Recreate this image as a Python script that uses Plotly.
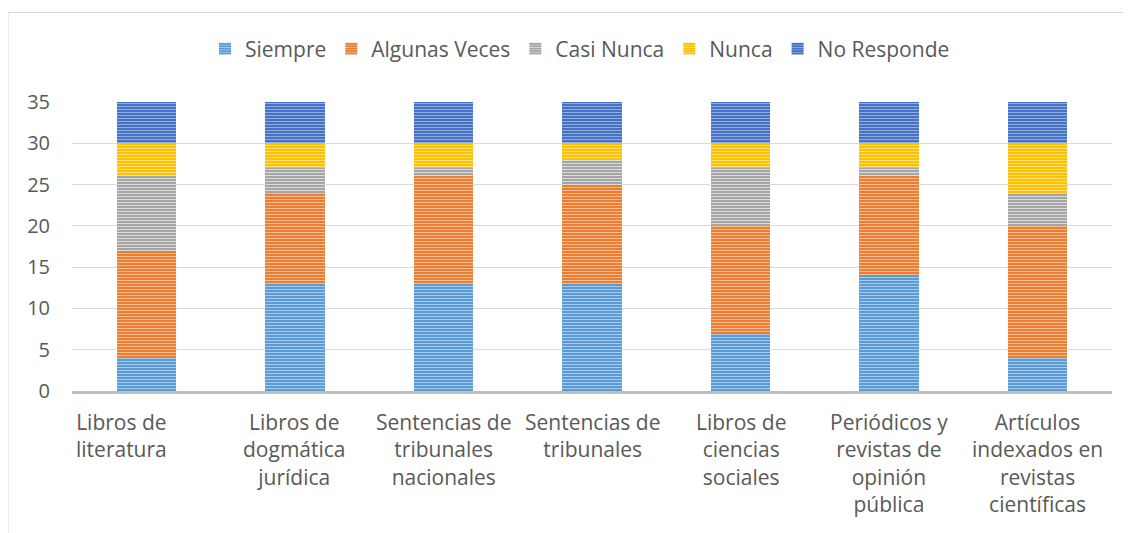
import plotly.graph_objects as go

categories = [
    "Libros de<br>literatura",
    "Libros de<br>dogmática<br>jurídica",
    "Sentencias de<br>tribunales<br>nacionales",
    "Sentencias de<br>tribunales",
    "Libros de<br>ciencias<br>sociales",
    "Periódicos y<br>revistas de<br>opinión<br>pública",
    "Artículos<br>indexados en<br>revistas<br>científicas",
]
siempre = [4, 13, 13, 13, 7, 14, 4]
algunas_veces = [13, 11, 13, 12, 13, 12, 16]
casi_nunca = [9, 3, 1, 3, 7, 1, 4]
nunca = [4, 3, 3, 2, 3, 3, 6]
no_responde = [5, 5, 5, 5, 5, 5, 5]

series = [
    ("Siempre", siempre, "#5B9BD5", "#A9CBEB"),
    ("Algunas Veces", algunas_veces, "#ED7D31", "#F6BC96"),
    ("Casi Nunca", casi_nunca, "#A5A5A5", "#DADADA"),
    ("Nunca", nunca, "#FFC000", "#FFDF7F"),
    ("No Responde", no_responde, "#4472C4", "#93ABDD"),
]

FONT = "Open Sans, Liberation Sans, sans-serif"
TXT = "#595959"

fig = go.Figure()
for name, vals, col, stripe in series:
    fig.add_trace(go.Bar(
        name=name, x=list(range(len(categories))), y=vals,
        marker=dict(color=col, line=dict(width=0),
                    pattern=dict(shape="-", size=3, solidity=0.35,
                                 fgcolor=stripe, bgcolor=col, fillmode="replace")),
    ))

# page offset of 8px (body margin) is compensated below
OFF = 8
W, H = 1131, 533
L, R, T, B = 72 - OFF, 19 + OFF, 102 - OFF, 142 + OFF
pw, ph = W - L - R, H - T - B
base = H - B  # pixel y of value 0 within figure

label_shift = [-25, 0, 0, 0, 0, 0, 0]
for i, c in enumerate(categories):
    fig.add_annotation(x=i, y=0, xref="x", yref="paper", yanchor="top",
                       text=c, showarrow=False, yshift=-15, xshift=label_shift[i],
                       font=dict(family=FONT, size=21, color=TXT), align="center")

fig.add_shape(type="rect", xref="paper", yref="paper",
              x0=(7.5 - OFF + 0.5 - L) / pw, x1=(W + 20 - L) / pw,
              y0=-(H + 20 - base) / ph, y1=(base - (12.5 - OFF)) / ph,
              line=dict(color="#D9D9D9", width=1), layer="below")

fig.update_layout(
    width=W, height=H, barmode="stack", bargap=0.6,
    margin=dict(l=L, r=R, t=T, b=B, autoexpand=False),
    paper_bgcolor="white", plot_bgcolor="white",
    font=dict(family=FONT, size=20, color=TXT),
    legend=dict(orientation="h", x=(580 - OFF - L) / pw, xanchor="center",
                y=(base - (49 - OFF)) / ph, yanchor="middle",
                font=dict(family=FONT, size=21, color=TXT),
                traceorder="normal", itemwidth=30),
    xaxis=dict(range=[-0.5, len(categories) - 0.5], showticklabels=False,
               showgrid=False, showline=True, linewidth=3, linecolor="#BFBFBF",
               ticks="", zeroline=False, fixedrange=True),
    yaxis=dict(range=[0, 35], dtick=5, showgrid=True, gridcolor="#D9D9D9", gridwidth=1,
               zeroline=False, showline=False, ticks="", ticklabelstandoff=21,
               tickfont=dict(family=FONT, size=20, color=TXT)),
)

fig.write_html("out.html")
